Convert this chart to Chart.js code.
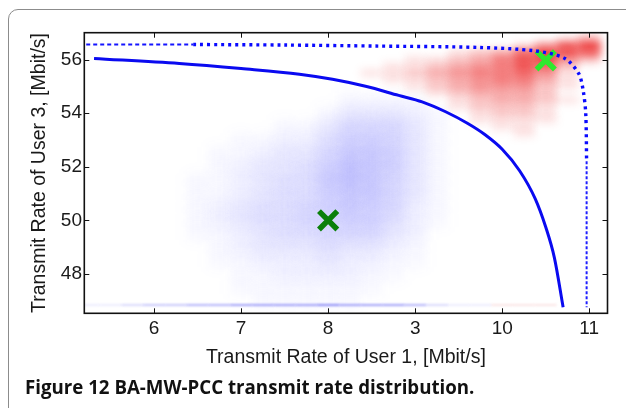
<!DOCTYPE html>
<html>
<head>
<meta charset="utf-8">
<script src="https://cdn.jsdelivr.net/npm/chart.js@4.4.1/dist/chart.umd.min.js"></script>
<style>
html, body { margin: 0; padding: 0; background: #fff; }
body { width: 626px; height: 408px; position: relative; overflow: hidden; }
#frame { position: absolute; left: 8px; top: 9px; width: 700px; height: 500px; border: 1.5px solid #8c8c8c; border-radius: 10px; }
#wrap { position: absolute; left: 0; top: 0; width: 626px; height: 408px; }
#caption { position: absolute; left: 25px; top: 374.3px; font-family: 'Open Sans'; font-weight: 700; font-size: 18.7px; color: #111; white-space: nowrap; }
</style>
</head>
<body>
<div id="frame"></div>
<div id="wrap"><canvas id="chart"></canvas></div>
<div id="caption">Figure 12 BA-MW-PCC transmit rate distribution.</div>
<script>
// axis ticks (the picture prints "3" where 9 belongs)
const xTicks = [6, 7, 8, 9, 10, 11];
const xTickLabels = ['6', '7', '8', '3', '10', '11'];
const yTicks = [48, 50, 52, 54, 56];

// solid boundary curve
const solidX = [5.31, 6.29, 7.0, 7.67, 8.05, 8.43, 8.81, 9.08, 9.35, 9.6, 9.8, 10.0, 10.2, 10.38, 10.5, 10.6, 10.70];
const solidY = [56.04, 55.85, 55.66, 55.45, 55.26, 55.0, 54.66, 54.42, 54.05, 53.62, 53.2, 52.65, 51.85, 50.8, 49.75, 48.6, 46.76];

// dotted boundary curve (dashed head, dotted body, thin tail)
const dashX = [5.22, 6.45];
const dashY = [56.56, 56.56];
const dotX = [6.45, 7.5, 8.58, 9.73, 10.38, 10.72, 10.88, 10.93, 10.96, 10.97];
const dotY = [56.56, 56.54, 56.5, 56.45, 56.32, 56.04, 55.47, 54.85, 53.98, 52.2];
const tailX = [10.97, 10.97];
const tailY = [52.2, 46.76];

// the two X markers
const markX = [8.0, 10.5];
const markY = [50.0, 55.97];

// density of the two point clouds, read by eye (0 = empty, 9 = densest)
const gridX = [5.25, 5.5, 5.75, 6.0, 6.25, 6.5, 6.75, 7.0, 7.25, 7.5, 7.75, 8.0,
               8.25, 8.5, 8.75, 9.0, 9.25, 9.5, 9.75, 10.0, 10.25, 10.5, 10.75, 11.0];
const blueY = [54.5, 54, 53.5, 53, 52.5, 52, 51.5, 51, 50.5, 50, 49.5, 49, 48.5, 48, 47.5, 47];
const blueRows = [
  '000000000000111100000000',
  '000000000001333210000000',
  '000000000113555310000000',
  '000000011224665310000000',
  '000000112335776310000000',
  '000000123346876310000000',
  '000001123447875310000000',
  '000001123446775310000000',
  '000001234456765210000000',
  '000001234455664210000000',
  '000001123445553200000000',
  '000000123334332100000000',
  '000000112223221100000000',
  '000000011222211000000000',
  '000000011111110000000000',
  '000000001111100000000000'
];
const redY = [56.75, 56.5, 56.25, 56, 55.75, 55.5, 55.25, 55, 54.75, 54.5, 54.25, 54, 53.75, 53.5, 53.25];
const redRows = [
  '000000000000000000000013',
  '000000000000000000001478',
  '000000000000000001236976',
  '000000000000000112357942',
  '000000000000001123457620',
  '000000000000011234556410',
  '000000000000001123455310',
  '000000000000000123444210',
  '000000000000000012333200',
  '000000000000000001233210',
  '000000000000000001222100',
  '000000000000000000122100',
  '000000000000000000111100',
  '000000000000000000011000',
  '000000000000000000001000'
];
// thin row of points lying on the bottom at 46.84
const baseY = [46.84];
const baseBlue = ['112334455556555421100000'];
const baseRed  = ['000000000000000000011100'];

function pts(xs, ys) {
    return xs.map((v, i) => ({ x: v, y: ys[i] }));
}

function drawGrid(ctx, x, y, rows, ys, hh, rgb, k) {
    const hw = 0.125;
    rows.forEach((row, r) => {
        const y0 = y.getPixelForValue(ys[r] + hh);
        const y1 = y.getPixelForValue(ys[r] - hh);
        for (let c = 0; c < row.length; c++) {
            const v = +row[c];
            if (!v) continue;
            const x0 = x.getPixelForValue(gridX[c] - hw);
            const x1 = x.getPixelForValue(gridX[c] + hw);
            ctx.fillStyle = `rgba(${rgb},${v * k})`;
            ctx.fillRect(x0, y0, x1 - x0, y1 - y0);
        }
    });
}

const cloudPlugin = {
    id: 'clouds',
    beforeDatasetsDraw(chart) {
        const { ctx, chartArea: a, scales: { x, y } } = chart;
        ctx.save();
        ctx.beginPath();
        ctx.rect(a.left, a.top, a.right - a.left, a.bottom - a.top);
        ctx.clip();
        ctx.filter = 'blur(7px)';
        drawGrid(ctx, x, y, blueRows, blueY, 0.25, '70,70,250', 0.047);
        ctx.filter = 'blur(4px)';
        drawGrid(ctx, x, y, redRows, redY, 0.125, '232,0,0', 0.125);
        ctx.filter = 'blur(1px)';
        drawGrid(ctx, x, y, baseBlue, baseY, 0.04, '60,60,240', 0.09);
        drawGrid(ctx, x, y, baseRed, baseY, 0.04, '220,60,60', 0.12);
        ctx.restore();
    }
};

// box round the plot with short inward ticks on all four sides
const boxPlugin = {
    id: 'box',
    afterDatasetsDraw(chart) {
        const { ctx, chartArea: a, scales: { x, y } } = chart;
        const len = 5;
        ctx.save();
        ctx.strokeStyle = '#111';
        ctx.lineWidth = 1;
        ctx.beginPath();
        x.ticks.forEach(t => {
            const px = Math.round(x.getPixelForValue(t.value)) + 0.5;
            ctx.moveTo(px, a.bottom); ctx.lineTo(px, a.bottom - len);
            ctx.moveTo(px, a.top); ctx.lineTo(px, a.top + len);
        });
        y.ticks.forEach(t => {
            const py = Math.round(y.getPixelForValue(t.value)) + 0.5;
            ctx.moveTo(a.left, py); ctx.lineTo(a.left + len, py);
            ctx.moveTo(a.right, py); ctx.lineTo(a.right - len, py);
        });
        ctx.stroke();
        ctx.lineWidth = 1.6;
        ctx.strokeRect(a.left, a.top, a.right - a.left, a.bottom - a.top);
        ctx.restore();
    }
};

const lineBase = { showLine: true, pointRadius: 0, fill: false, tension: 0.3 };

new Chart(document.getElementById('chart'), {
    type: 'scatter',
    data: {
        datasets: [
            Object.assign({}, lineBase, { data: pts(dotX, dotY), borderColor: 'rgb(10,10,255)', borderWidth: 3.4, borderDash: [3, 4] }),
            Object.assign({}, lineBase, { data: pts(dashX, dashY), borderColor: 'rgb(20,20,255)', borderWidth: 2, borderDash: [4, 3], tension: 0 }),
            Object.assign({}, lineBase, { data: pts(tailX, tailY), borderColor: 'rgb(30,30,255)', borderWidth: 2, borderDash: [3, 2], tension: 0 }),
            Object.assign({}, lineBase, { data: pts(solidX, solidY), borderColor: 'rgb(10,10,240)', borderWidth: 3, cubicInterpolationMode: 'monotone' }),
            {
                data: pts(markX, markY),
                pointStyle: 'crossRot',
                pointRadius: 13,
                pointBorderWidth: 5.5,
                pointBorderColor: ['#0b800b', '#2ee82e'],
                pointBackgroundColor: ['#0b800b', '#2ee82e']
            }
        ]
    },
    options: {
        responsive: true,
        maintainAspectRatio: false,
        animation: false,
        events: [],
        layout: { padding: { left: 0, top: 32.7, right: 16.7, bottom: 38.7 } },
        plugins: { legend: { display: false }, tooltip: { enabled: false } },
        scales: {
            x: {
                type: 'linear',
                min: 5.198,
                max: 11.21,
                afterBuildTicks: s => { s.ticks = xTicks.map(v => ({ value: v })); },
                afterFit: s => { s.height = 56; },
                grid: { display: false, drawTicks: false },
                border: { display: false },
                ticks: {
                    padding: 4.2,
                    color: '#1a1a1a',
                    font: { family: 'Liberation Sans', size: 19 },
                    callback: (v, i) => xTickLabels[i]
                },
                title: {
                    display: true,
                    text: 'Transmit Rate of User 1, [Mbit/s]',
                    color: '#1a1a1a',
                    font: { family: 'Liberation Sans', size: 19.5 },
                    padding: { top: 0, bottom: 0 }
                }
            },
            y: {
                type: 'linear',
                min: 46.53,
                max: 57.0,
                afterBuildTicks: s => { s.ticks = yTicks.map(v => ({ value: v })); },
                afterFit: s => { s.width = 84.3; },
                grid: { display: false, drawTicks: false },
                border: { display: false },
                ticks: {
                    padding: 2.3,
                    color: '#1a1a1a',
                    font: { family: 'Liberation Sans', size: 19 },
                    callback: v => String(v)
                },
                title: {
                    display: true,
                    text: 'Transmit Rate of User 3, [Mbit/s]',
                    color: '#1a1a1a',
                    font: { family: 'Liberation Sans', size: 19.5 },
                    padding: { top: 28, bottom: 0 }
                }
            }
        }
    },
    plugins: [cloudPlugin, boxPlugin]
});
</script>
</body>
</html>
